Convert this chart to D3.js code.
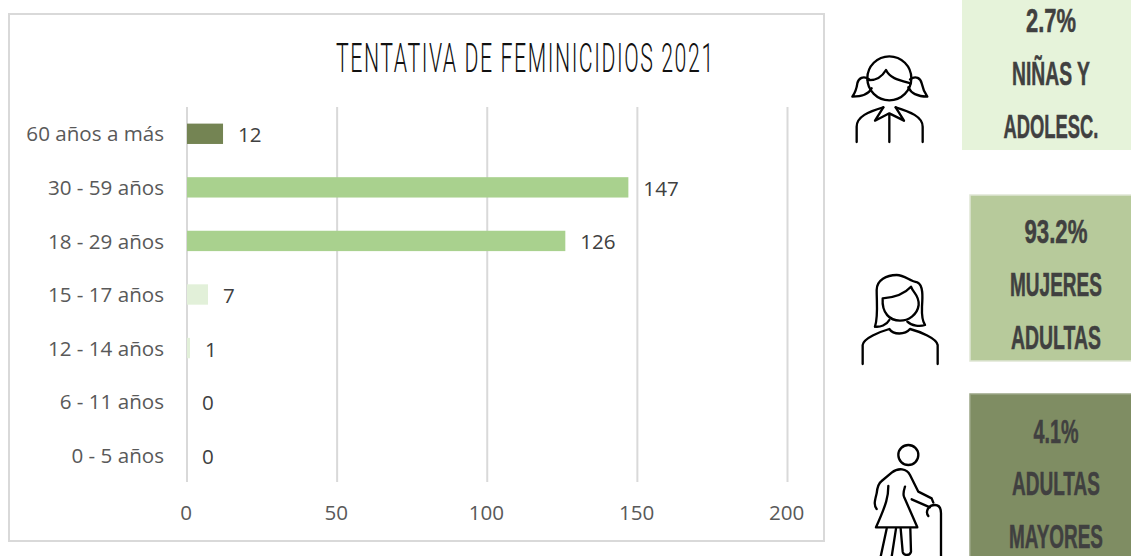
<!DOCTYPE html>
<html><head><meta charset="utf-8">
<script src="https://cdn.jsdelivr.net/npm/d3@7"></script>
<style>html,body{margin:0;padding:0;background:#fff}svg{display:block}</style>
</head><body><svg id="c" width="1131" height="556"></svg>
<script>
const categories = ["60 años a más","30 - 59 años","18 - 29 años","15 - 17 años","12 - 14 años","6 - 11 años","0 - 5 años"];
const values = [12,147,126,7,1,0,0];
const ageGroups = ["mayor","adulta","adulta","nina","nina","nina","nina"];
const xTicks = [0,50,100,150,200];
const chartTitle = "TENTATIVA DE FEMINICIDIOS 2021";
const summaryLines = [
  ["2.7%","NIÑAS Y","ADOLESC."],
  ["93.2%","MUJERES","ADULTAS"],
  ["4.1%","ADULTAS","MAYORES"]
];

const svg = d3.select("#c");
const sans = "'Open Sans', sans-serif";
const narrow = "'Liberation Sans Narrow', 'Liberation Sans', sans-serif";

// squeeze a text horizontally to a given width, keeping its true box
function fit(sel, left, base, w){
  const n = sel.node().getComputedTextLength();
  sel.attr("transform",`translate(${left},${base}) scale(${w/n},1)`);
}

svg.append("rect").attr("x",9).attr("y",14).attr("width",815).attr("height",527)
  .attr("fill","#fff").attr("stroke","#d9d9d9").attr("stroke-width",2);

const title = svg.append("text").text(chartTitle)
  .attr("font-family","Roboto, sans-serif").attr("font-weight",300).attr("font-size",41)
  .attr("letter-spacing",3).attr("fill","#111");
fit(title,336,72,379);

const x = d3.scaleLinear().domain([0,200]).range([186.5,787]);
const y = d3.scaleBand().domain(categories).range([107,482]).paddingInner(0.62).paddingOuter(0.31);
const color = d3.scaleOrdinal().domain(["mayor","adulta","nina"]).range(["#748453","#a9d18e","#e2f0d9"]);

// gridlines + x axis
const gx = svg.append("g").attr("transform","translate(0,482)")
  .call(d3.axisBottom(x).tickValues(xTicks).tickSize(-375).tickPadding(23));
gx.select(".domain").remove();
gx.selectAll("line").attr("stroke","#d9d9d9").attr("stroke-width",2);
gx.selectAll("text").attr("font-family",sans).attr("font-size",20.6).attr("fill","#595959").attr("dx",-0.8);

// bars
svg.append("g").selectAll("rect").data(categories).join("rect")
  .attr("x",x(0)+0.5).attr("y",d=>y(d))
  .attr("width",(d,i)=>Math.max(0,x(values[i])-x(0)))
  .attr("height",y.bandwidth())
  .attr("fill",(d,i)=>color(ageGroups[i]));

// y axis labels
const gy = svg.append("g").attr("transform","translate(186,1)")
  .call(d3.axisLeft(y).tickSize(0).tickPadding(22));
gy.select(".domain").remove();
gy.selectAll("text").attr("font-family",sans).attr("font-size",20.6).attr("fill","#595959");

// data labels
svg.append("g").selectAll("text").data(categories).join("text")
  .text((d,i)=>values[i])
  .attr("x",(d,i)=>x(values[i])+15.5).attr("y",d=>y(d)+y.bandwidth()/2+8.5)
  .attr("font-family",sans).attr("font-size",20.6).attr("fill","#404040");

// summary boxes
const boxes = [
  {x:962,y:-2,w:171,h:152,fill:"#e6f3da",stroke:"none",cx:1051,ys:[20,73,126]},
  {x:970,y:195,w:163,h:166,fill:"#b7ca9b",stroke:"#dfe6d5",cx:1056,ys:[231,284,337]},
  {x:970,y:394,w:163,h:164,fill:"#7f8d63",stroke:"#9aa585",cx:1056,ys:[431,483,536]}
];
const widths = [[50,78,95],[63,92,90],[45,88,94]];
boxes.forEach((b,i)=>{
  svg.append("rect").attr("x",b.x).attr("y",b.y).attr("width",b.w).attr("height",b.h)
    .attr("fill",b.fill).attr("stroke",b.stroke).attr("stroke-width",1.5);
  summaryLines[i].forEach((t,j)=>{
    const tx = svg.append("text").text(t)
      .attr("font-family",narrow).attr("font-weight",700).attr("font-size",33)
      .attr("fill","#404040").attr("stroke","#404040").attr("stroke-width",0.5);
    fit(tx,b.cx-widths[i][j]/2,b.ys[j]+11.5,widths[i][j]);
  });
});

// pictograms
function icon(tx,ty,paths,circles){
  const g = svg.append("g").attr("transform",`translate(${tx},${ty}) scale(${1/3})`)
    .attr("fill","none").attr("stroke","#000").attr("stroke-width",7)
    .attr("stroke-linejoin","round").attr("stroke-linecap","round");
  paths.forEach(p=>g.append("path").attr("d",p));
  circles.forEach(c=>g.append("circle").attr("cx",c[0]).attr("cy",c[1]).attr("r",c[2]));
}
icon(830,0,[
  "M113,240 C135,242 155,232 168,210 C180,235 205,240 242,250",
  "M118,238 C100,225 85,235 82,250 C80,265 74,280 67,290 C90,290 115,285 125,265",
  "M240,238 C258,225 272,235 275,250 C278,265 285,280 292,290 C268,290 245,285 235,262",
  "M80,426 L80,380 C80,350 115,335 160,322 M197,322 C240,335 278,350 278,380 L278,426",
  "M160,322 L135,362 L178,340 L222,362 L197,322 M178,340 L178,426"
],[[178,235,66]]);
icon(830,190,[
  "M135,410 C145,380 140,340 140,300 C140,270 170,255 200,255 C225,255 240,275 262,277 C280,285 278,320 276,350 C275,375 278,395 285,405 C270,410 245,408 232,395",
  "M135,410 C150,412 170,405 178,390",
  "M158,325 C195,322 225,310 243,290 C250,310 268,315 266,345 C262,375 235,392 210,392 C180,392 155,370 158,325 Z",
  "M98,522 L98,465 C100,445 150,425 178,417 C190,435 225,435 240,417 C270,425 320,445 323,465 L323,522"
],[]);
icon(830,380,[
  "M140,387 C130,375 135,360 140,340 C142,320 145,310 155,303 L185,278 C205,262 230,265 240,285 L265,335 L305,355 L310,368",
  "M245,358 L300,382",
  "M175,318 C175,350 170,370 138,442 L262,442 L222,350 C218,340 222,330 225,320",
  "M295,408 C285,395 295,375 315,375 C330,375 333,390 333,400 L333,530",
  "M170,446 L152,530 M198,446 L185,530",
  "M212,446 L218,515 C220,528 240,528 243,515 L241,446"
],[[235,225,30]]);
</script></body></html>
